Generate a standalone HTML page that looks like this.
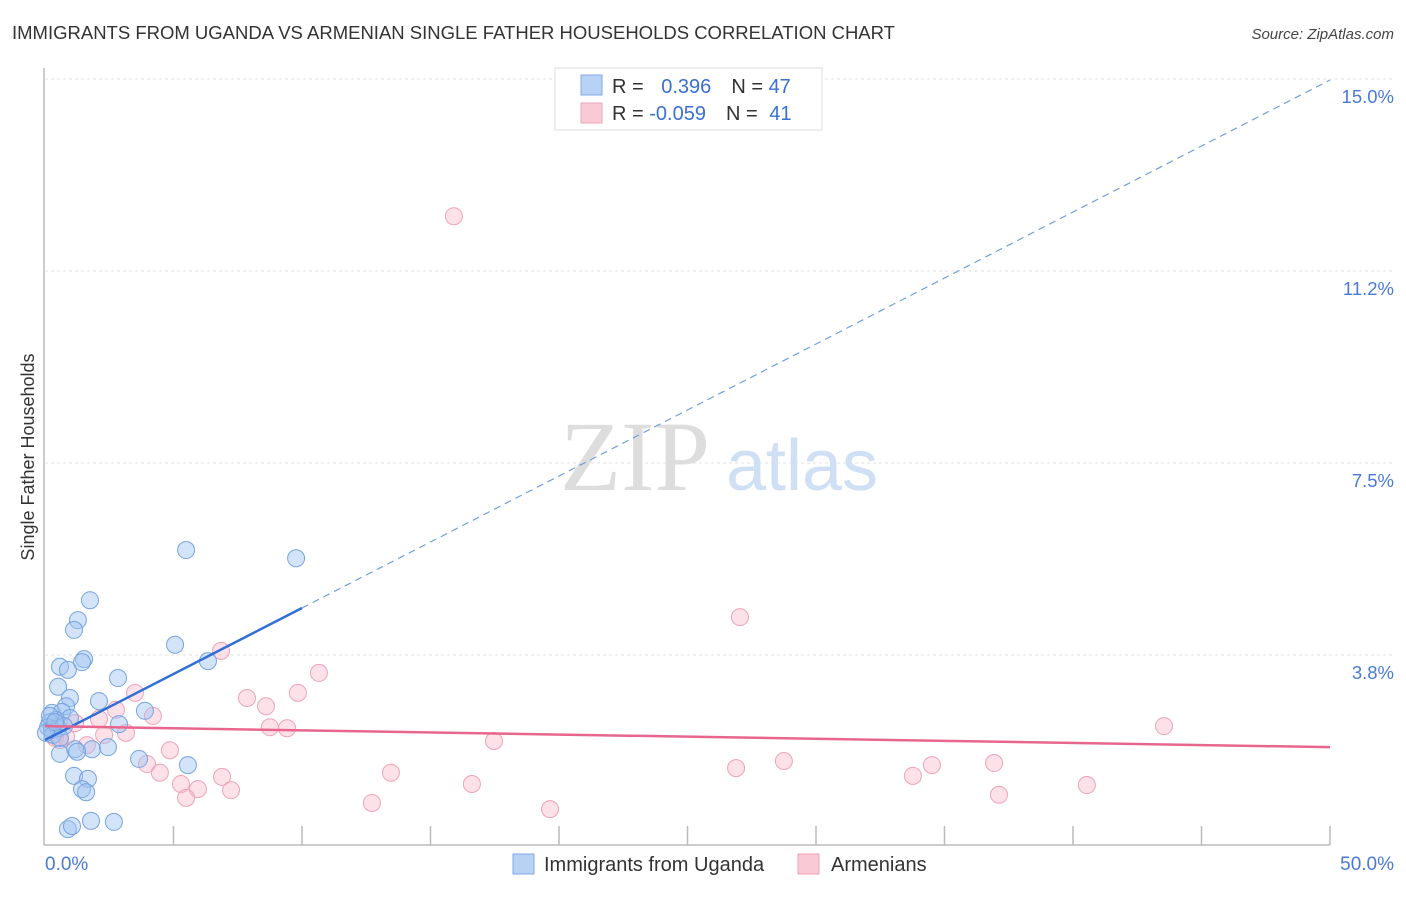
<!DOCTYPE html>
<html><head><meta charset="utf-8"><style>
body{margin:0;background:#fff;font-family:"Liberation Sans",sans-serif}
svg text{font-family:"Liberation Sans",sans-serif}
</style></head><body>
<svg width="1406" height="892" xmlns="http://www.w3.org/2000/svg">
<text x="12" y="39" font-size="18.5" fill="#333">IMMIGRANTS FROM UGANDA VS ARMENIAN SINGLE FATHER HOUSEHOLDS CORRELATION CHART</text>
<text x="1394" y="39" font-size="15" fill="#444" font-style="italic" text-anchor="end">Source: ZipAtlas.com</text>
<text x="34" y="457" font-size="18" fill="#333" text-anchor="middle" transform="rotate(-90 34 457)">Single Father Households</text>
<g id="grid"></g>
<text x="635" y="490" font-size="100" fill="#ddd" font-family="Liberation Serif" text-anchor="middle" style="font-family:'Liberation Serif',serif">ZIP</text>
<text x="802" y="490" font-size="72" fill="#cfe0f5" text-anchor="middle">atlas</text>
<line x1="44" y1="68" x2="44" y2="845" stroke="#bbb" stroke-width="1.5"/>
<line x1="44" y1="845" x2="1330" y2="845" stroke="#bbb" stroke-width="1.5"/>
<g id="xticks"></g>
<g id="ylabels"></g>
<g id="pink"></g>
<g id="blue"></g>
<g id="trends"></g>
<text x="45" y="870" font-size="19" fill="#4a7ad8">0.0%</text>
<text x="1394" y="870" font-size="19" fill="#4a7ad8" text-anchor="end">50.0%</text>
<g>
<rect x="555" y="68" width="267" height="62" fill="#fff" stroke="#ddd"/>
<rect x="581" y="75" width="21" height="20" fill="#b8d2f5" stroke="#7fa8e6"/>
<rect x="581" y="103" width="21" height="20" fill="#f9c9d6" stroke="#eea5b9"/>
<text x="612" y="93" font-size="20" fill="#333">R = <tspan fill="#3a6fd3" dx="12">0.396</tspan><tspan dx="20" fill="#333">N = </tspan><tspan fill="#3a6fd3">47</tspan></text>
<text x="612" y="120" font-size="20" fill="#333">R = <tspan fill="#3a6fd3">-0.059</tspan><tspan dx="20" fill="#333">N = </tspan><tspan fill="#3a6fd3" dx="6">41</tspan></text>
</g>
<g>
<rect x="513" y="854" width="21" height="20" fill="#b8d2f5" stroke="#7fa8e6"/>
<text x="544" y="871" font-size="20" fill="#333">Immigrants from Uganda</text>
<rect x="798" y="854" width="21" height="20" fill="#f9c9d6" stroke="#eea5b9"/>
<text x="831" y="871" font-size="20" fill="#333">Armenians</text>
</g>
</svg>
<script>
const yTicks=[3.75,7.5,11.25,15];
const yTickLabels=["3.8%","7.5%","11.2%","15.0%"];
const xTicks=[5,10,15,20,25,30,35,40,45,50];
const blueX=[5.49,9.77,1.75,1.28,1.13,5.06,1.52,1.44,6.34,0.58,0.89,2.84,0.51,0.97,2.10,0.27,0.82,0.66,3.89,0.97,0.43,0.19,0.12,0.27,0.51,0.74,2.88,0.31,0.58,1.17,1.83,2.45,0.58,1.25,3.66,5.56,1.13,1.67,1.44,1.60,1.79,2.68,0.89,1.05,0.19,0.04,0.39];
const blueY=[5.80,5.64,4.82,4.43,4.24,3.95,3.67,3.61,3.63,3.52,3.46,3.30,3.13,2.91,2.85,2.62,2.75,2.64,2.66,2.52,2.48,2.44,2.34,2.29,2.32,2.36,2.40,2.19,2.13,1.91,1.91,1.95,1.82,1.86,1.72,1.60,1.39,1.33,1.13,1.07,0.51,0.49,0.35,0.41,2.56,2.23,2.44];
const pinkX=[15.91,27.04,6.85,10.66,9.84,3.50,7.86,8.60,2.76,4.20,2.10,1.17,8.75,9.42,2.30,3.15,0.39,0.58,0.82,17.47,43.54,1.63,4.86,3.97,28.75,26.89,34.51,36.93,13.46,4.47,6.89,5.29,33.77,16.61,5.95,7.24,40.54,5.49,37.12,12.72,19.65];
const pinkY=[12.32,4.49,3.83,3.40,3.01,3.01,2.91,2.75,2.68,2.56,2.50,2.42,2.34,2.32,2.19,2.23,2.13,2.09,2.15,2.07,2.36,1.99,1.89,1.62,1.68,1.54,1.60,1.64,1.45,1.45,1.37,1.23,1.39,1.23,1.13,1.11,1.21,0.96,1.02,0.86,0.74];
const blueTrend=[2.09,14.98];
const blueSolidEnd=10;
const pinkTrend=[2.36,1.95];
const NS="http://www.w3.org/2000/svg";
const sx=v=>45+v*1285/50;
const sy=v=>847-v*51.2;
function mk(tag,attrs,parent){const e=document.createElementNS(NS,tag);for(const k in attrs)e.setAttribute(k,attrs[k]);document.getElementById(parent).appendChild(e);return e;}
yTicks.forEach((t,i)=>{
 const l=mk('line',{x1:45,x2:1394,y1:sy(t),y2:sy(t),stroke:'#e2e2e2','stroke-width':1,'stroke-dasharray':'3,3'},'grid');
 
 
 const tx=mk('text',{x:1394,y:sy(t)+24,'font-size':18.5,fill:'#4a7ad8','text-anchor':'end'},'ylabels');
 tx.textContent=yTickLabels[i];
 
 
});
xTicks.forEach(t=>{
 const l=mk('line',{x1:sx(t),x2:sx(t),y1:826,y2:845,stroke:'#bbb','stroke-width':1.5},'xticks');
 
 
});
pinkX.forEach((v,i)=>{
 const c=mk('circle',{cx:sx(v),cy:sy(pinkY[i]),r:8.5,fill:'rgba(248,180,200,0.4)',stroke:'#efa3b9','stroke-width':1},'pink');
 
 
});
blueX.forEach((v,i)=>{
 const c=mk('circle',{cx:sx(v),cy:sy(blueY[i]),r:8.5,fill:'rgba(160,195,240,0.45)',stroke:'#76a3e0','stroke-width':1},'blue');
 
 
});
const by=x=>blueTrend[0]+(blueTrend[1]-blueTrend[0])*x/50;
let t1=mk('line',{x1:sx(0),y1:sy(by(0)),x2:sx(blueSolidEnd),y2:sy(by(blueSolidEnd)),stroke:'#2f6fd6','stroke-width':2.5},'trends');


let t2=mk('line',{x1:sx(blueSolidEnd),y1:sy(by(blueSolidEnd)),x2:sx(50),y2:sy(by(50)),stroke:'#6f9fe0','stroke-width':1.2,'stroke-dasharray':'7,5'},'trends');


let t3=mk('line',{x1:sx(0),y1:sy(pinkTrend[0]),x2:sx(50),y2:sy(pinkTrend[1]),stroke:'#e8668e','stroke-width':2.5},'trends');


</script>
</body></html>
